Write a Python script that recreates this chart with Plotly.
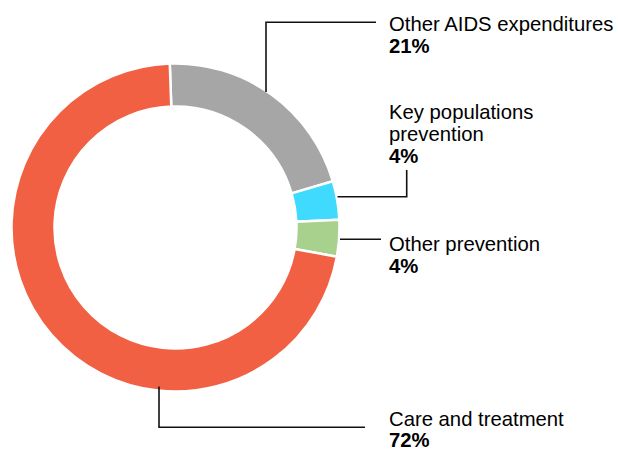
import plotly.graph_objects as go

categories = ["Other AIDS expenditures", "Key populations prevention", "Other prevention", "Care and treatment"]
label_lines = [["Other AIDS expenditures"], ["Key populations", "prevention"], ["Other prevention"], ["Care and treatment"]]
values = [21.0, 3.8, 3.6, 71.6]
pct_labels = ["21%", "4%", "4%", "72%"]
colors = ["#A6A6A6", "#40DAFF", "#A9D18E", "#F26044"]

W, H = 618, 449


def px(x):
    return x / W


def py(y):
    return 1 - y / H


fig = go.Figure()
fig.add_trace(go.Pie(
    labels=categories,
    values=values,
    sort=False,
    direction="clockwise",
    rotation=-2,
    hole=0.738,
    textinfo="none",
    hoverinfo="label+percent",
    marker=dict(colors=colors, line=dict(color="white", width=2.5)),
    domain=dict(x=[px(11.5), px(339.5)], y=[py(391.5), py(63.5)]),
    showlegend=False,
))

# text label positions (left x, first-line centre y) in pixels
text_pos = [(388, 24), (388, 112), (388, 244), (388, 418.5)]
line_step = 21.8
font = dict(family="Arial, Liberation Sans, sans-serif", size=20.3, color="#000000")
for lines, pct, (tx, ty) in zip(label_lines, pct_labels, text_pos):
    rows = lines + ["<b>" + pct + "</b>"]
    for i, r in enumerate(rows):
        fig.add_annotation(
            x=px(tx), y=py(ty + i * line_step), xref="paper", yref="paper",
            text=r, showarrow=False, xanchor="left", yanchor="middle",
            font=font, borderpad=0,
        )

# leader lines (pixel paths)
leaders = [
    [(266, 92), (266, 22.3), (376, 22.3)],
    [(337.5, 196.7), (406.7, 196.7), (406.7, 170)],
    [(340, 239.3), (381, 239.3)],
    [(159, 386.5), (159, 427.3), (365, 427.3)],
]
for pts in leaders:
    path = "M " + " L ".join(f"{px(x)},{py(y)}" for x, y in pts)
    fig.add_shape(type="path", path=path, xref="paper", yref="paper",
                  line=dict(color="#111111", width=1.6))

fig.update_layout(
    width=W, height=H,
    margin=dict(l=0, r=0, t=0, b=0),
    paper_bgcolor="white", plot_bgcolor="white",
)

fig.write_html(
    "out.html",
    config={"displayModeBar": False},
    post_script="document.body.style.margin='0';document.body.style.overflow='hidden';",
)
